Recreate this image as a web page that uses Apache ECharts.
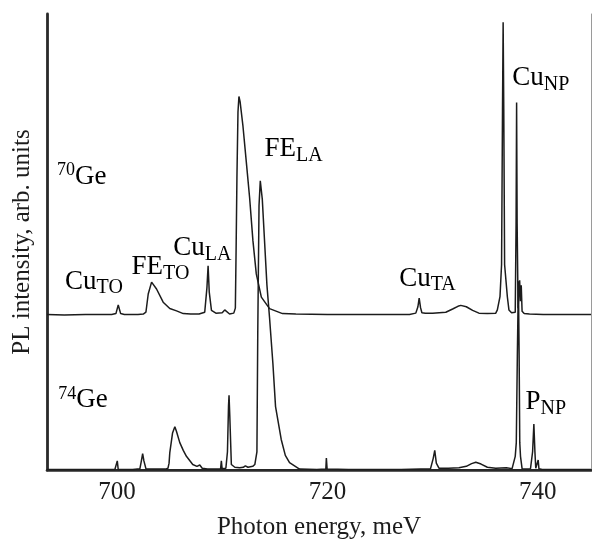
<!DOCTYPE html>
<html>
<head>
<meta charset="utf-8">
<script src="https://cdn.jsdelivr.net/npm/echarts@6/dist/echarts.min.js"></script>
<style>
  html, body { margin: 0; padding: 0; background: #fff; }
  #chart { width: 592px; height: 545px; }
</style>
</head>
<body>
<div id="chart"></div>
<script>
// Photoluminescence spectra of isotopically enriched 70Ge and 74Ge.
// Energies in meV, intensities in arbitrary units.

// 70Ge spectrum (drawn with a vertical offset)
const ge70Energy = [
  693.35, 695.0, 697.0, 699.5, 699.9, 700.12, 700.35, 700.7, 702.0, 702.5,
  702.75, 702.97, 703.29, 703.76, 704.39, 705.02, 705.66, 705.8, 706.3, 707.0,
  707.8, 708.34, 708.55, 708.66, 708.77, 708.98, 709.4, 710.0, 710.24, 710.7,
  711.1, 711.25, 711.32, 711.4, 711.5, 711.59, 711.7, 711.97, 712.35, 712.61,
  712.92, 713.24, 713.72, 714.5, 715.73, 717.0, 720.0, 724.0, 727.8, 728.4,
  728.6, 728.72, 728.85, 728.98, 729.3, 730.0, 731.25, 731.9, 732.4, 732.67,
  733.2, 733.8, 734.4, 735.2, 736.0, 736.15, 736.4, 736.55, 736.64, 736.7,
  736.76, 736.84, 737.1, 737.25, 737.5, 737.85, 737.93, 737.98, 738.03, 738.12,
  738.2, 738.27, 738.34, 738.42, 738.5, 738.7, 739.2, 740.5, 742.5, 745.05
];
const ge70Intensity = [
  0.1, 0.0, 0.1, 0.1, 0.3, 2.2, 0.3, 0.1, 0.1, 0.2,
  0.6, 4.6, 7.2, 5.7, 2.8, 1.4, 0.9, 1.0, 0.3, 0.2,
  0.2, 0.6, 6.0, 10.8, 5.0, 1.0, 0.4, 0.5, 1.1, 0.2,
  0.4, 1.5, 14.0, 30.0, 44.5, 47.9, 46.8, 41.5, 32.1, 25.6,
  16.3, 9.0, 3.9, 1.4, 0.3, 0.2, 0.1, 0.1, 0.1, 0.4,
  1.8, 3.7, 1.6, 0.5, 0.4, 0.4, 0.6, 1.3, 1.9, 2.1,
  1.8, 1.0, 0.4, 0.3, 0.4, 1.1, 4.0, 11.0, 45.0, 64.2,
  45.0, 11.0, 4.0, 1.1, 0.5, 0.6, 20.0, 46.6, 20.0, 1.5,
  5.0, 7.6, 3.0, 6.5, 0.8, 0.3, 0.2, 0.1, 0.1, 0.1
];

// 74Ge spectrum
const ge74Energy = [
  693.35, 696.0, 699.8, 699.95, 700.03, 700.12, 701.5, 702.18, 702.32, 702.44,
  702.56, 702.75, 703.5, 704.6, 704.85, 704.95, 705.02, 705.28, 705.5, 705.65,
  705.97, 706.3, 706.6, 707.2, 707.6, 707.87, 708.1, 708.6, 709.5, 709.85,
  709.92, 709.99, 710.35, 710.5, 710.6, 710.65, 710.72, 710.87, 711.2, 711.66,
  712.0, 712.2, 712.45, 712.9, 713.1, 713.3, 713.38, 713.5, 713.62, 713.81,
  714.03, 714.25, 714.5, 714.82, 715.07, 715.61, 716.0, 716.4, 717.35, 719.0,
  719.85, 719.9, 719.97, 722.0, 727.0, 729.8, 730.05, 730.2, 730.35, 730.6,
  731.5, 732.5, 733.2, 733.7, 734.1, 734.6, 735.2, 736.0, 737.0, 737.55,
  737.85, 737.95, 738.05, 738.15, 738.22, 738.28, 738.35, 738.5, 739.0, 739.3,
  739.5, 739.62, 739.72, 739.8, 739.95, 740.03, 740.1, 740.4, 742.0, 745.05
];
const ge74Intensity = [
  0.1, 0.1, 0.1, 0.3, 2.0, 0.1, 0.1, 0.3, 2.0, 3.6,
  2.0, 0.3, 0.2, 0.2, 0.4, 1.5, 3.8, 8.1, 9.5, 8.5,
  6.0, 4.3, 3.0, 1.2, 0.8, 1.1, 0.4, 0.2, 0.2, 0.3,
  2.0, 0.3, 0.4, 4.0, 14.0, 16.4, 12.0, 1.2, 0.6, 0.5,
  0.6, 0.9, 0.6, 0.8, 1.2, 4.0, 30.0, 58.0, 63.4, 59.4,
  50.0, 40.6, 33.4, 23.3, 13.9, 6.7, 3.2, 1.6, 0.2, 0.1,
  0.2, 2.6, 0.2, 0.1, 0.1, 0.3, 2.5, 4.3, 1.5, 0.4,
  0.4, 0.5, 0.8, 1.4, 1.7, 1.3, 0.6, 0.4, 0.5, 0.3,
  3.0, 6.0, 25.0, 41.4, 25.0, 6.0, 3.0, 0.3, 0.2, 0.3,
  4.0, 10.1, 4.0, 0.4, 0.5, 2.2, 0.3, 0.1, 0.1, 0.1
];

// vertical shift of the 70Ge trace above the 74Ge trace
const GE70_OFFSET = 34;

// x axis labelled values
const xTickValues = [700, 720, 740];

// peak annotations: [main text, subscript text, energy, intensity level]
const peakLabels = [
  ['Cu', 'TO', 695.07, 41.2],
  ['FE', 'TO', 701.39, 44.4],
  ['Cu', 'LA', 705.34, 48.6],
  ['FE', 'LA', 714.03, 70.3],
  ['Cu', 'TA', 726.82, 41.9],
  ['Cu', 'NP', 737.56, 85.8],
  ['P', 'NP', 738.83, 14.8]
];
// isotope labels: [mass number, element, energy, intensity level]
const isotopeLabels = [
  ['70', 'Ge', 694.31, 64.6],
  ['74', 'Ge', 694.41, 15.5]
];

const FONT = '"Liberation Serif", "Times New Roman", serif';
const INK = '#1c1c1c';

const ge70Data = ge70Energy.map((e, i) => [e, ge70Intensity[i] + GE70_OFFSET]);
const ge74Data = ge74Energy.map((e, i) => [e, ge74Intensity[i]]);

const chart = echarts.init(document.getElementById('chart'), null, { renderer: 'canvas' });

const lineSeries = (name, data) => ({
  name, type: 'line', data,
  showSymbol: false, symbol: 'none', smooth: false,
  lineStyle: { color: INK, width: 1.5 },
  clip: true, animation: false
});

chart.setOption({
  animation: false,
  backgroundColor: '#fff',
  grid: { left: 47, right: 1, top: 14, bottom: 70 },
  xAxis: [
    {
      type: 'value', min: 693.35, max: 745.05,
      name: 'Photon energy, meV', nameLocation: 'middle', nameGap: 45,
      nameTextStyle: { fontFamily: FONT, fontSize: 25, color: INK },
      axisLine: { show: true, lineStyle: { color: INK, width: 2.2 } },
      axisTick: { show: false },
      splitLine: { show: false },
      axisLabel: {
        customValues: xTickValues, margin: 10,
        fontFamily: FONT, fontSize: 25, color: INK
      }
    },
    {
      type: 'value', position: 'top', min: 693.35, max: 745.05,
      axisLine: { show: true, lineStyle: { color: '#2a2a2a', width: 2.6 } },
      axisTick: { show: false }, axisLabel: { show: false }, splitLine: { show: false }
    }
  ],
  yAxis: [
    {
      type: 'value', min: 0, max: 100,
      name: 'PL intensity, arb. units', nameLocation: 'middle', nameGap: 12,
      nameTextStyle: { fontFamily: FONT, fontSize: 25, color: INK },
      axisLine: { show: true, lineStyle: { color: '#2a2a2a', width: 2.8 } },
      axisTick: { show: false }, axisLabel: { show: false }, splitLine: { show: false }
    },
    {
      type: 'value', position: 'right', min: 0, max: 100,
      axisLine: { show: true, lineStyle: { color: '#9a9a9a', width: 1 } },
      axisTick: { show: false }, axisLabel: { show: false }, splitLine: { show: false }
    }
  ],
  series: [
    lineSeries('74Ge', ge74Data),
    lineSeries('70Ge', ge70Data)
  ]
});

// text annotations anchored in data coordinates
const subRich = {
  b: { fontFamily: FONT, fontSize: 27, lineHeight: 28, verticalAlign: 'top', color: INK },
  s: { fontFamily: FONT, fontSize: 20, lineHeight: 20, padding: [12, 0, 0, 0], color: INK }
};
const supRich = {
  p: { fontFamily: FONT, fontSize: 18, lineHeight: 18, verticalAlign: 'top', color: INK },
  g: { fontFamily: FONT, fontSize: 27, lineHeight: 28, padding: [2, 0, 0, 0], color: INK }
};

const graphics = [];
peakLabels.forEach(([main, sub, e, v]) => {
  const [px, py] = chart.convertToPixel({ gridIndex: 0 }, [e, v]);
  graphics.push({
    type: 'text', x: px, y: py, silent: true,
    style: { text: '{b|' + main + '}{s|' + sub + '}', rich: subRich, verticalAlign: 'middle', align: 'left' }
  });
});
isotopeLabels.forEach(([mass, el, e, v]) => {
  const [px, py] = chart.convertToPixel({ gridIndex: 0 }, [e, v]);
  graphics.push({
    type: 'text', x: px, y: py, silent: true,
    style: { text: '{p|' + mass + '}{g|' + el + '}', rich: supRich, verticalAlign: 'middle', align: 'left' }
  });
});
chart.setOption({ graphic: graphics });
</script>
</body>
</html>
